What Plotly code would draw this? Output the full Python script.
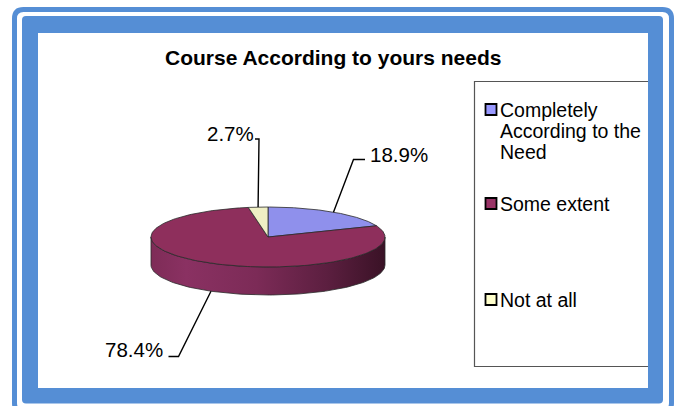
import textwrap
import numpy as np
import plotly.graph_objects as go

# ---------------- data ----------------
categories = ["Completely According to the Need", "Some extent", "Not at all"]
values = [18.9, 78.4, 2.7]
title_text = "Course According to yours needs"

# ---------------- style ----------------
W, H = 677, 406
FONT = "Liberation Sans, Arial, sans-serif"
FRAME_BLUE = "#558ed5"
top_colors = ["#8f90ec", "#8e2f5c", "#efefc4"]
legend_colors = ["#9999FF", "#993366", "#FFFFCC"]
side_scales = [
    [[0, "#6f70c0"], [0.2, "#7c7dd2"], [0.6, "#5e5fa8"], [1, "#2f3060"]],
    [[0, "#7e2c57"], [0.15, "#8a3162"], [0.45, "#7c2b57"], [0.75, "#5c1f40"], [1, "#3a1226"]],
    [[0, "#cfcfa8"], [0.2, "#dedeb6"], [0.6, "#b8b893"], [1, "#6e6e58"]],
]
CX, CY, RX, RY, DEPTH = 268, 237, 117, 30, 28

# label layout (elbow, hook end, text anchor)
label_layout = [
    dict(elbow=(353.5, 159.5), hook=(365, 159.5), text=(368, 154.5), xanchor="left"),
    dict(elbow=(178.5, 356.5), hook=(168.5, 356.5), text=(165, 349.5), xanchor="right"),
    dict(elbow=(259, 139), hook=(255, 139), text=(255.5, 133.5), xanchor="right"),
]
legend_rows = [109.5, 203.5, 299.5]
LEGEND_LINE = 21


def pt(theta, dz=0.0):
    t = np.radians(theta)
    return CX + RX * np.cos(t), CY - RY * np.sin(t) + dz


fig = go.Figure()

total = sum(values)
angles = []
start = 90.0
for v in values:
    a0 = start
    a1 = start - v / total * 360.0
    angles.append((a0, a1))
    start = a1

# side walls (front visible part only)
for i, (a0, a1) in enumerate(angles):
    for k in range(-3, 3):
        lo = max(a1, 180 + 360 * k)
        hi = min(a0, 360 + 360 * k)
        if hi - lo <= 0:
            continue
        th = np.linspace(lo, hi, 120)
        xt, yt = pt(th)
        xb, yb = pt(th[::-1], DEPTH)
        xs = np.concatenate([xt, xb, xt[:1]])
        ys = np.concatenate([yt, yb, yt[:1]])
        fig.add_trace(go.Scatter(
            x=xs, y=ys, mode="lines", fill="toself",
            fillgradient=dict(type="horizontal", colorscale=side_scales[i]),
            line=dict(color="#2a2a2a", width=0.8),
            hoverinfo="skip", showlegend=False))

# top faces
for i, (a0, a1) in enumerate(angles):
    th = np.linspace(a0, a1, 200)
    xa, ya = pt(th)
    xs = np.concatenate([[CX], xa, [CX]])
    ys = np.concatenate([[CY], ya, [CY]])
    fig.add_trace(go.Scatter(
        x=xs, y=ys, mode="lines", fill="toself", fillcolor=top_colors[i],
        line=dict(color="#2a2a2a", width=0.8),
        hoverinfo="skip", showlegend=False))

# leader lines + labels
annotations = []
for i, (a0, a1) in enumerate(angles):
    mid = (a0 + a1) / 2
    ax_, ay_ = pt(mid)
    if np.sin(np.radians(mid)) < 0:
        ay_ += DEPTH
    L = label_layout[i]
    fig.add_trace(go.Scatter(
        x=[ax_, L["elbow"][0], L["hook"][0]],
        y=[ay_, L["elbow"][1], L["hook"][1]],
        mode="lines", line=dict(color="black", width=1.4),
        hoverinfo="skip", showlegend=False))
    annotations.append(dict(
        x=L["text"][0], y=L["text"][1], xref="x", yref="y",
        text=f"{values[i]:.1f}%", showarrow=False,
        xanchor=L["xanchor"], yanchor="middle",
        font=dict(family=FONT, size=20.5, color="black")))

# title
annotations.append(dict(
    x=333, y=57.5, xref="x", yref="y", text=f"<b>{title_text}</b>",
    showarrow=False, xanchor="center", yanchor="middle",
    font=dict(family=FONT, size=21, color="black")))

# legend
fig.add_trace(go.Scatter(
    x=[491] * len(categories), y=legend_rows, mode="markers",
    marker=dict(symbol="square", size=11, color=legend_colors,
                line=dict(color="black", width=1.8)),
    hoverinfo="skip", showlegend=False))
for i, cat in enumerate(categories):
    for j, line in enumerate(textwrap.wrap(cat, 16)):
        annotations.append(dict(
            x=498, y=legend_rows[i] + j * LEGEND_LINE, xref="x", yref="y",
            text=line, showarrow=False, xanchor="left", yanchor="middle",
            font=dict(family=FONT, size=19.5, color="black")))


def rrect(x0, y0, x1, y1, r):
    return (f"M {x0+r},{y0} L {x1-r},{y0} Q {x1},{y0} {x1},{y0+r} "
            f"L {x1},{y1-r} Q {x1},{y1} {x1-r},{y1} L {x0+r},{y1} "
            f"Q {x0},{y1} {x0},{y1-r} L {x0},{y0+r} Q {x0},{y0} {x0+r},{y0} Z")


shapes = [
    dict(type="path", path=rrect(14.5, 9.5, 671.5, 412, 9), xref="x", yref="y",
         line=dict(color=FRAME_BLUE, width=5), fillcolor="rgba(0,0,0,0)", layer="below"),
    dict(type="path", path=rrect(22, 16, 663, 403.5, 4), xref="x", yref="y",
         line=dict(width=0), fillcolor=FRAME_BLUE, layer="below"),
    dict(type="rect", x0=38, y0=33, x1=648, y1=388, xref="x", yref="y",
         line=dict(width=0), fillcolor="white", layer="below"),
    dict(type="path", path="M 648,81.5 L 474.5,81.5 L 474.5,366.5 L 648,366.5",
         xref="x", yref="y", line=dict(color="#555555", width=1.2), layer="below"),
]

fig.update_layout(
    width=W, height=H, margin=dict(l=0, r=0, t=0, b=0),
    paper_bgcolor="white", plot_bgcolor="white",
    xaxis=dict(range=[0, W], visible=False, fixedrange=True),
    yaxis=dict(range=[H, 0], visible=False, fixedrange=True),
    shapes=shapes, annotations=annotations, showlegend=False,
)

fig.write_html(
    "out.html",
    config={"displayModeBar": False},
    post_script="document.body.style.margin='0px';document.body.style.overflow='hidden';",
)
